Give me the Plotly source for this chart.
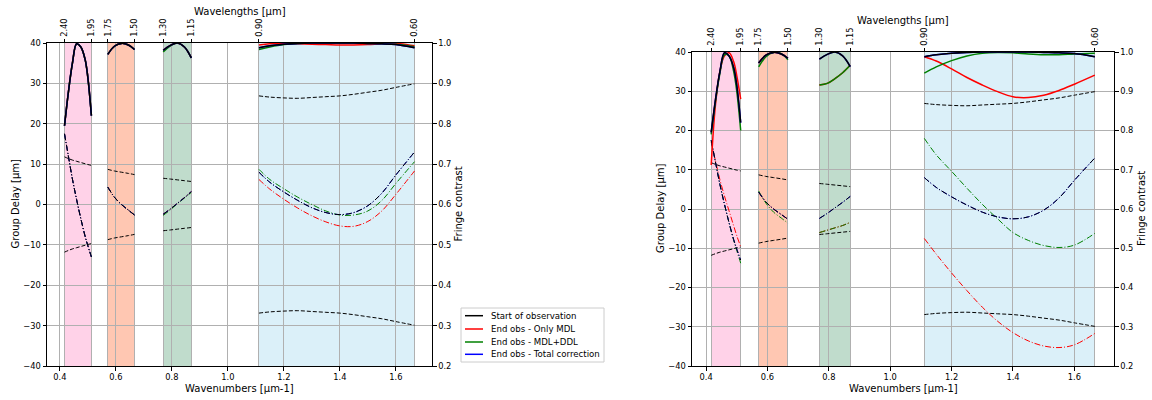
import plotly.graph_objects as go

# ---------------- data ----------------
band_lambda_long = [2.40, 1.75, 1.30, 0.90]    # µm, band start
band_lambda_short = [1.95, 1.50, 1.15, 0.60]   # µm, band end
top_tick_labels = ["2.40", "1.95", "1.75", "1.50", "1.30", "1.15", "0.90", "0.60"]
bottom_ticks = [0.4, 0.6, 0.8, 1.0, 1.2, 1.4, 1.6]
gd_ticks = [-40, -30, -20, -10, 0, 10, 20, 30, 40]
contrast_ticks = [0.2, 0.3, 0.4, 0.5, 0.6, 0.7, 0.8, 0.9, 1.0]

# sampled wavenumbers [µm-1]; None separates the bands (K, H, J, visible)
wavenumber = [0.4167, 0.43, 0.445, 0.46, 0.475, 0.49, 0.50, 0.5128, None,
              0.5714, 0.595, 0.62, 0.645, 0.6667, None,
              0.7692, 0.795, 0.82, 0.845, 0.8696, None,
              1.1111, 1.15, 1.2, 1.25, 1.3, 1.35, 1.4, 1.45, 1.5, 1.55, 1.6, 1.6667]

start_contrast = [0.795, 0.875, 0.95, 0.998, 0.99, 0.96, 0.915, 0.82, None,
                  0.972, 0.992, 0.999, 0.995, 0.984, None,
                  0.982, 0.994, 1.0, 0.99, 0.963, None,
                  0.988, 0.993, 0.997, 0.999, 1.0, 1.0, 1.0, 1.0, 0.999, 0.998, 0.996, 0.988]
start_gd = [17.5, 12.2, 6.3, 1.2, -3.5, -7.8, -10.2, -13.0, None,
            4.3, 1.8, 0.0, -1.4, -2.6, None,
            -2.4, -1.1, 0.3, 1.7, 3.2, None,
            8.0, 5.5, 3.1, 1.0, -0.8, -2.0, -2.5, -2.0, -0.3, 2.8, 7.3, 13.0]
envelope = [11.8, 11.4, 11.0, 10.7, 10.4, 10.1, 9.9, 9.7, None,
            8.7, 8.3, 8.0, 7.7, 7.4, None,
            6.5, 6.3, 6.1, 5.9, 5.7, None,
            26.9, 26.6, 26.4, 26.3, 26.5, 26.7, 26.9, 27.3, 27.8, 28.3, 29.0, 29.9]

# left panel (end of observation, first case)
mdl_contrast_a = start_contrast[:21] + [0.995, 0.998, 0.999, 0.998, 0.997, 0.996, 0.995, 0.995, 0.996, 0.998, 0.999, 0.993]
mdl_gd_a = start_gd[:21] + [6.2, 3.8, 1.3, -0.9, -2.8, -4.3, -5.3, -5.4, -4.2, -1.6, 2.5, 8.3]
ddl_contrast_a = start_contrast[:15] + [0.978, 0.993, 1.0, 0.99, 0.963, None,
                                        0.984, 0.99, 0.996, 0.999, 1.0, 1.0, 1.0, 1.0, 0.999, 0.998, 0.997, 0.991]
ddl_gd_a = start_gd[:15] + [-2.7, -1.3, 0.2, 1.6, 3.0, None,
                            8.7, 6.2, 3.9, 1.8, 0.0, -1.6, -2.6, -2.6, -1.6, 1.0, 5.2, 10.6]
total_contrast_a = start_contrast
total_gd_a = start_gd

# right panel (end of observation, second case)
mdl_contrast_b = [0.712, 0.86, 0.95, 0.99, 0.998, 0.975, 0.94, 0.88, None,
                  0.972, 0.992, 0.999, 0.995, 0.984, None,
                  0.916, 0.92, 0.932, 0.947, 0.966, None,
                  0.988, 0.977, 0.957, 0.935, 0.916, 0.899, 0.886, 0.884, 0.89, 0.902, 0.918, 0.941]
mdl_gd_b = [17.0, 12.5, 7.5, 3.3, -0.5, -4.3, -6.8, -9.6, None,
            4.3, 1.8, 0.0, -1.4, -2.6, None,
            -6.0, -5.4, -4.8, -4.2, -3.4, None,
            -7.5, -11.5, -16.3, -20.8, -25.0, -28.6, -31.5, -33.6, -34.9, -35.3, -34.6, -31.7]
ddl_contrast_b = [0.79, 0.87, 0.945, 0.993, 0.99, 0.95, 0.9, 0.80, None,
                  0.962, 0.988, 0.999, 0.996, 0.98, None,
                  0.916, 0.92, 0.932, 0.947, 0.966, None,
                  0.946, 0.962, 0.978, 0.99, 0.997, 0.999, 0.998, 0.995, 0.993, 0.993, 0.995, 0.997]
ddl_gd_b = [17.5, 12.2, 6.3, 1.2, -3.6, -8.0, -10.6, -13.8, None,
            4.6, 1.5, -0.8, -2.3, -3.6, None,
            -6.0, -5.4, -4.8, -4.2, -3.4, None,
            18.0, 13.8, 9.6, 5.3, 1.2, -2.5, -6.0, -8.0, -9.3, -9.8, -9.2, -6.2]
total_contrast_b = start_contrast
total_gd_b = start_gd

series_names = ["Start of observation", "End obs - Only MDL", "End obs - MDL+DDL", "End obs - Total correction"]
axis_titles = dict(bottom="Wavenumbers [µm-1]", top="Wavelengths [µm]",
                   left="Group Delay [µm]", right="Fringe contrast")

# ---------------- styling ----------------
FONT = "DejaVu Sans"
band_fill = ["rgba(255,105,180,0.3)", "rgba(255,69,0,0.3)", "rgba(46,139,87,0.3)", "rgba(135,206,235,0.3)"]
series_keys = ["start", "mdl", "ddl", "total"]
series_colors = {"start": "black", "mdl": "red", "ddl": "green", "total": "blue"}
GRID = "#b0b0b0"
DASH = "4px,2px"
DASHDOT = "6px,2px,1px,2px"
W, H = 1152, 400

wn_lo = 1 / max(band_lambda_long)
wn_hi = 1 / min(band_lambda_short)
pad = 0.05 * (wn_hi - wn_lo)
xrange = [wn_lo - pad, wn_hi + pad]
top_tickvals = []
for a, b in zip(band_lambda_long, band_lambda_short):
    top_tickvals += [1 / a, 1 / b]

fig = go.Figure()

panels = [
    dict(x="x", xt="x2", y="y", y2="y2", data=dict(
        mdl=(mdl_contrast_a, mdl_gd_a), ddl=(ddl_contrast_a, ddl_gd_a),
        total=(total_contrast_a, total_gd_a), start=(start_contrast, start_gd)),
        px=(47, 432), py=(43, 366), title_left=15, title_right=458, title_top=11.5, title_bottom=388),
    dict(x="x3", xt="x4", y="y3", y2="y4", data=dict(
        mdl=(mdl_contrast_b, mdl_gd_b), ddl=(ddl_contrast_b, ddl_gd_b),
        total=(total_contrast_b, total_gd_b), start=(start_contrast, start_gd)),
        px=(692, 1114), py=(52, 366), title_left=660, title_right=1141, title_top=20, title_bottom=388),
]

for p in panels:
    # bands
    for a, b, c in zip(band_lambda_long, band_lambda_short, band_fill):
        fig.add_shape(type="rect", xref=p["x"], yref=p["y"], x0=1 / a, x1=1 / b, y0=-40, y1=40,
                      fillcolor=c, line=dict(width=0), layer="below")
    # invisible anchor so the top wavelength axis is drawn
    fig.add_trace(go.Scatter(x=top_tickvals, y=[0] * len(top_tickvals), xaxis=p["xt"], yaxis=p["y"],
                             mode="markers", marker=dict(opacity=0), showlegend=False, hoverinfo="skip"))
    # envelope (dashed, symmetric)
    for sgn in (1, -1):
        fig.add_trace(go.Scatter(x=wavenumber, y=[None if v is None else sgn * v for v in envelope],
                                 xaxis=p["x"], yaxis=p["y"], mode="lines", line_shape="spline",
                                 line=dict(color="black", width=1, dash=DASH), showlegend=False,
                                 hoverinfo="skip"))
    for key in ["mdl", "ddl", "total", "start"]:
        cval, gval = p["data"][key]
        fig.add_trace(go.Scatter(x=wavenumber, y=gval, xaxis=p["x"], yaxis=p["y"], mode="lines",
                                 line_shape="spline",
                                 line=dict(color=series_colors[key], width=1, dash=DASHDOT),
                                 showlegend=False, hoverinfo="skip"))
    for key in ["mdl", "ddl", "total", "start"]:
        cval, gval = p["data"][key]
        fig.add_trace(go.Scatter(x=wavenumber, y=cval, xaxis=p["x"], yaxis=p["y2"], mode="lines",
                                 line_shape="spline",
                                 line=dict(color=series_colors[key], width=1.5),
                                 showlegend=False, hoverinfo="skip"))
    # axis titles
    xc = (p["px"][0] + p["px"][1]) / 2 / W
    yc = 1 - (p["py"][0] + p["py"][1]) / 2 / H
    tf = dict(family=FONT, size=10, color="black")
    fig.add_annotation(xref="paper", yref="paper", x=xc, y=1 - p["title_bottom"] / H,
                       text=axis_titles["bottom"], showarrow=False, font=tf,
                       xanchor="center", yanchor="middle")
    fig.add_annotation(xref="paper", yref="paper", x=xc, y=1 - p["title_top"] / H,
                       text=axis_titles["top"], showarrow=False, font=tf,
                       xanchor="center", yanchor="middle")
    fig.add_annotation(xref="paper", yref="paper", x=p["title_left"] / W, y=yc,
                       text=axis_titles["left"], showarrow=False, font=tf, textangle=-90,
                       xanchor="center", yanchor="middle")
    fig.add_annotation(xref="paper", yref="paper", x=p["title_right"] / W, y=yc,
                       text=axis_titles["right"], showarrow=False, font=tf, textangle=-90,
                       xanchor="center", yanchor="middle")

# legend drawn as a framed box (matplotlib-style compact rows)
LX0, LX1, LY0, LY1 = 461, 604, 308, 362
row_y = [315.7, 329, 342, 354.3]
fig.add_shape(type="rect", xref="paper", yref="paper", x0=LX0 / W, x1=LX1 / W,
              y0=1 - LY1 / H, y1=1 - LY0 / H, line=dict(color="#cccccc", width=1),
              fillcolor="rgba(255,255,255,0.8)", layer="above")
for key, name, ry in zip(series_keys, series_names, row_y):
    fig.add_shape(type="line", xref="paper", yref="paper", x0=465 / W, x1=483 / W,
                  y0=1 - ry / H, y1=1 - ry / H, line=dict(color=series_colors[key], width=1.5),
                  layer="above")
    fig.add_annotation(xref="paper", yref="paper", x=489 / W, y=1 - ry / H, text=name,
                       showarrow=False, xanchor="left", yanchor="middle",
                       font=dict(family=FONT, size=8.6, color="black"))

tickfont = dict(family=FONT, size=8.3, color="black")


def xbottom(domain, anchor):
    return dict(domain=domain, anchor=anchor, range=xrange, tickvals=bottom_ticks, tickformat=".1f",
                showgrid=True, gridcolor=GRID, gridwidth=1, zeroline=False,
                showline=True, linecolor="black", linewidth=1, ticks="outside", ticklen=3.5,
                tickcolor="black", tickfont=tickfont, automargin=False)


def xtop(overlay, anchor):
    return dict(overlaying=overlay, anchor=anchor, side="top", range=xrange, tickvals=top_tickvals,
                ticktext=top_tick_labels, tickangle=-90, showgrid=True, gridcolor=GRID, gridwidth=1,
                zeroline=False, showline=True, linecolor="black", linewidth=1, ticks="outside",
                ticklen=3.5, tickcolor="black", tickfont=tickfont, automargin=False)


def yleft(domain, anchor):
    return dict(domain=domain, anchor=anchor, range=[-40, 40], tickvals=gd_ticks, showgrid=True,
                gridcolor=GRID, gridwidth=1, zeroline=False, showline=True, linecolor="black",
                linewidth=1, ticks="outside", ticklen=3.5, tickcolor="black", tickfont=tickfont,
                automargin=False)


def yright(overlay, anchor):
    return dict(overlaying=overlay, anchor=anchor, side="right", range=[0.2, 1.0],
                tickvals=contrast_ticks, tickformat=".1f", showgrid=False, zeroline=False,
                showline=True, linecolor="black", linewidth=1, ticks="outside", ticklen=3.5,
                tickcolor="black", tickfont=tickfont, automargin=False)


d1 = [panels[0]["px"][0] / W, panels[0]["px"][1] / W]
d2 = [panels[1]["px"][0] / W, panels[1]["px"][1] / W]
yd1 = [1 - panels[0]["py"][1] / H, 1 - panels[0]["py"][0] / H]
yd2 = [1 - panels[1]["py"][1] / H, 1 - panels[1]["py"][0] / H]

fig.update_layout(
    width=W, height=H, margin=dict(l=0, r=0, t=0, b=0),
    paper_bgcolor="white", plot_bgcolor="white",
    font=dict(family=FONT, size=10, color="black"),
    xaxis=xbottom(d1, "y"), xaxis2=xtop("x", "y"),
    yaxis=yleft(yd1, "x"), yaxis2=yright("y", "x"),
    xaxis3=xbottom(d2, "y3"), xaxis4=xtop("x3", "y3"),
    yaxis3=yleft(yd2, "x3"), yaxis4=yright("y3", "x3"),
    showlegend=False,
)

fig.write_html("out.html", config={"displayModeBar": False},
               post_script="document.body.style.margin='0';document.body.style.padding='0';"
                           "document.body.style.overflow='hidden';")
